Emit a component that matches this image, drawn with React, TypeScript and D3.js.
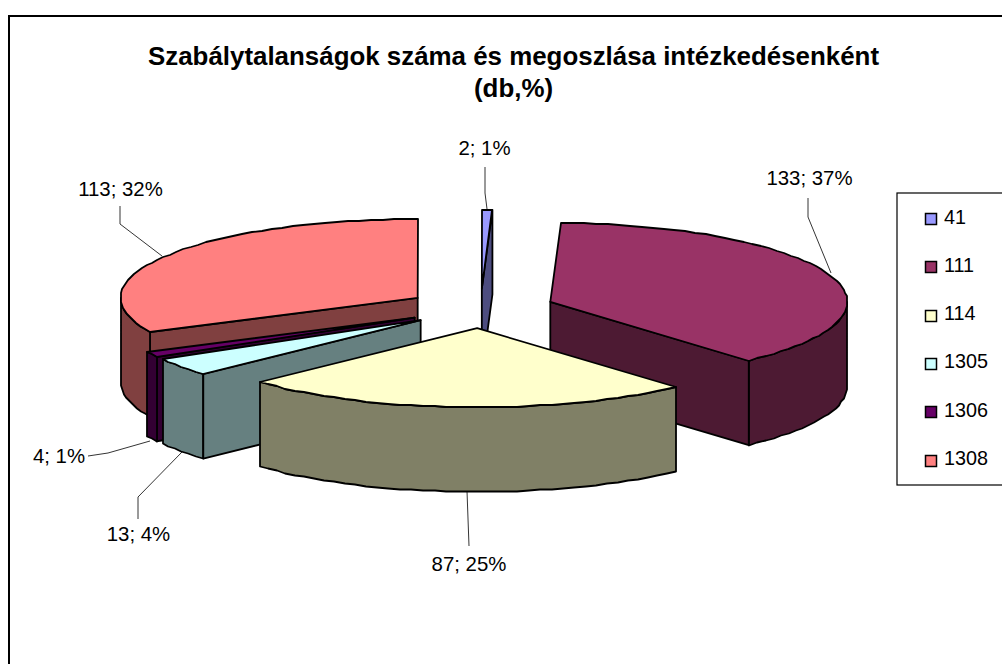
import React from "react";
import * as d3 from "d3";

const categories = ["41", "111", "114", "1305", "1306", "1308"];
const counts = [2, 133, 87, 13, 4, 113];
const percents = ["1%", "37%", "25%", "4%", "1%", "32%"];
const topColors = ["#9999FF", "#993366", "#FFFFCC", "#CCFFFF", "#660066", "#FF8080"];
const sideColors = ["#4D4D80", "#4D1A33", "#808066", "#668080", "#330033", "#804040"];
const titleLines = ["Szabálytalanságok száma és megoszlása intézkedésenként", "(db,%)"];

const W = 1002, H = 664;
const CX = 480.5, CY = 308.5, RX = 297, RY = 79, DEPTH = 84.5, EXPLODE = 0.25;
const FONT = "'Liberation Sans', Arial, sans-serif";
const paintOrder = [0, 5, 1, 4, 3, 2];

const labelPlacement = [
  { x: 484.5, y: 155, line: [[485, 167], [485, 193], [487, 209]] },
  { x: 809.5, y: 185, line: [[808, 198], [808, 217], [831, 273]] },
  { x: 469, y: 571, line: [[469, 546], [467, 491]] },
  { x: 138.5, y: 541, line: [[138, 519], [138, 497], [182, 452]] },
  { x: 59, y: 463, line: [[88, 456], [108, 453], [150, 441]] },
  { x: 120.5, y: 196, line: [[120, 206], [120, 224], [162, 256]] },
];

const pt = (a: number, cx: number, cy: number, k = 1): [number, number] => [
  cx + k * RX * Math.sin(a),
  cy - k * RY * Math.cos(a),
];
const arcPts = (a0: number, a1: number, cx: number, cy: number) => {
  const n = Math.max(1, Math.ceil(Math.abs(a1 - a0) / 0.04));
  return d3.range(n + 1).map((i) => {
    const [x, y] = pt(a0 + ((a1 - a0) * i) / n, cx, cy);
    return [Math.round(x), Math.round(y)] as [number, number];
  });
};
const lineGen = d3.line<[number, number]>();
const closed = (p: [number, number][]) => (lineGen(p) || "") + "Z";
const shift = (p: [number, number][]): [number, number][] =>
  p.map(([x, y]) => [x, y + DEPTH] as [number, number]).reverse();

export default function App() {
  const arcs = d3.pie<number>().sort(null).startAngle(0).endAngle(2 * Math.PI)(counts);
  const strokeProps = { stroke: "#000", strokeWidth: 1.8, strokeLinejoin: "round" as const };

  return (
    <svg
      width={W}
      height={H}
      viewBox={`0 0 ${W} ${H}`}
      style={{ position: "fixed", left: 0, top: 0, background: "#fff" }}
    >
      <rect x={9} y={16} width={W + 20} height={H + 20} fill="#fff" stroke="#000" strokeWidth={2} />
      <g fontFamily={FONT} fontSize={25.9} fontWeight="bold" textAnchor="middle" fill="#000">
        {titleLines.map((t, i) => (
          <text key={t} x={513.5} y={65 + i * 32}>{t}</text>
        ))}
      </g>

      {paintOrder.map((i) => {
        const { startAngle: a0, endAngle: a1 } = arcs[i];
        const mid = (a0 + a1) / 2;
        const [cx, cy] = pt(mid, CX, CY, EXPLODE);
        const top = [[cx, cy] as [number, number], ...arcPts(a0, a1, cx, cy)];
        const wall0 = Math.max(a0, Math.PI / 2);
        const wall1 = Math.min(a1, (3 * Math.PI) / 2);
        const radial = (a: number) => {
          const e = pt(a, cx, cy);
          const q: [number, number][] = [[cx, cy], e];
          return closed([...q, ...shift(q)]);
        };
        const faces: string[] = [];
        if (a0 > Math.PI && a0 < 2 * Math.PI) faces.push(radial(a0));
        if (a1 > 0 && a1 < Math.PI) faces.push(radial(a1));
        if (wall1 > wall0) {
          const w = arcPts(wall0, wall1, cx, cy);
          faces.push(closed([...w, ...shift(w)]));
        }
        return (
          <g key={categories[i]} {...strokeProps}>
            {faces.map((d, j) => (
              <path key={j} d={d} fill={sideColors[i]} />
            ))}
            <path d={closed(top)} fill={topColors[i]} />
          </g>
        );
      })}

      <g fill="none" stroke="#000" strokeWidth={0.8}>
        {labelPlacement.map((l, i) => (
          <path key={i} d={lineGen(l.line as [number, number][]) || ""} />
        ))}
      </g>
      <g fontFamily={FONT} fontSize={20.4} textAnchor="middle" fill="#000">
        {labelPlacement.map((l, i) => (
          <text key={i} x={l.x} y={l.y}>{`${counts[i]}; ${percents[i]}`}</text>
        ))}
      </g>

      <rect x={897} y={193} width={W} height={292} fill="#fff" stroke="#000" strokeWidth={1.2} />
      {categories.map((c, i) => {
        const y = 213 + i * 48.3;
        return (
          <g key={c}>
            <rect x={925.5} y={Math.round(y) + 0.5} width={11} height={11} fill={topColors[i]} stroke="#000" strokeWidth={1.5} />
            <text x={944} y={y + 10.5} fontFamily={FONT} fontSize={19.8} fill="#000">{c}</text>
          </g>
        );
      })}
    </svg>
  );
}
